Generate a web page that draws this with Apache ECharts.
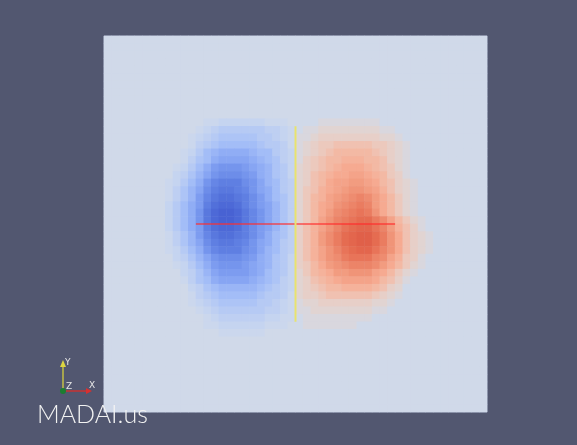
<!DOCTYPE html>
<html>
<head>
<meta charset="utf-8">
<script src="https://cdn.jsdelivr.net/npm/echarts@6/dist/echarts.min.js"></script>
<style>
    html, body { margin: 0; padding: 0; background: #525770; }
    #chart { width: 577px; height: 445px; }
</style>
</head>
<body>
<div id="chart"></div>
<script>
// 50 x 50 cell field. Rows below start at row 11 and column 8, everything else is 0.
// '.' = 0, a..r = -0.5 .. -9 (blue), A..R = +0.5 .. +9 (red)
var gridSize = 50;
var firstRow = 11;
var firstCol = 8;
var fieldRows = [
    ".....aabbbbbbaaa....AAAAAAAA.......",
    "....abcddddddccba.AABBBBBBBBAA.....",
    "...abcdeeeeeddcbaAABCCCCCCCCBBA....",
    "...acdefffffeddcaABCDDEEEEEDDCBA...",
    "..abdfghhhhgffdcbABCDEFFFFFEDCBA...",
    "..acefhiiiihgfecbACDEFFGGGFFECBA...",
    ".abdfhjkkkjihgedbBCDEFGHHHGFEDBA...",
    ".bcegiklllkjhgedbBCEFGHHIIHGFDCA...",
    "abdfhkmnnnlkigfdcBCEFHIIJJIHFECBA..",
    "acegilnoonmkihfdcBDEGHIJKKJIGECBA..",
    "acegjmopponljhfecBDFGIJKLMLJHFDBA..",
    "bdfhjnpqqpnljigecBDFHIKLMNMJHFDBA..",
    "bdfhkoqrrqomkigecBDFHJLMNONKHFDBA..",
    "bdfhkoqrrqomkigecBDFIKMNOPPNLIFDBA.",
    "bdfhjnpqqpnljigecCEGIKMOPQQOMJGECA.",
    "acegjmopponljhfecCEGJLNPQRRPNKHECBA",
    "acegilnoonmkihfdcCEGJLNPQRRPNKHECBA",
    "abdfhkmnnnlkigfdcCEGIKMOPQQOMKHECBA",
    ".bcegiklllkjhgedbCEGIKLNOOOMLIGDCA.",
    ".abdfhjkkkjihgedbCDFHJKLMMMLJHFDBA.",
    "..bcegijjjjihfedbBDFGHJJKKKIHFDBA..",
    "..acefhiiiihgfecbBCEFGHIIIIHFECA...",
    "...bcefgggggfedcbBCDEFFGGGGFECB....",
    "...acdefffffeddcaBCCDEEEEEEDCBA....",
    "...abcdeeeeeddcbaABBCCCCCCCBBA.....",
    "....abcddddddccbaAABBBBBBBBAA......",
    ".....abccccccbbaa.AAAAAAAAA........",
    ".....aabbbbbbaaa..AAAAAAA..........",
    ".......aaaaaa......................"
];

// colours for levels -9 .. 9
var levelColors = [
    '#4862d3', '#5270da', '#5f7fe2', '#6d8de9', '#7d9cf0', '#90adf5', '#a3bdf7', '#b6caf4', '#c5d4f0',
    '#d0d9e9',
    '#e1d4d2', '#ecc9bd', '#f3b9a4', '#f6aa91', '#f29c80', '#ee8c70', '#ea7c60', '#e56c51', '#e06049'
];

// the two probe lines, in cell units (x, y from top-left)
var xProbe = [[12, 25], [38, 25]];
var yProbe = [[25, 12], [25, 38]];

function levelOf(ch) {
    if (!ch || ch === '.') { return 0; }
    var code = ch.charCodeAt(0);
    if (code >= 97) { return -(code - 96) * 0.5; }
    return (code - 64) * 0.5;
}

var cats = [];
for (var k = 0; k < gridSize; k++) { cats.push(k); }

var cells = [];
for (var r = 0; r < gridSize; r++) {
    var row = fieldRows[r - firstRow] || '';
    for (var c = 0; c < gridSize; c++) {
        cells.push([c, r, levelOf(row[c - firstCol])]);
    }
}

var chart = echarts.init(document.getElementById('chart'));

var option = {
    backgroundColor: '#525770',
    animation: false,
    grid: {
        left: 104, top: 36, width: 383, height: 376,
        show: true,
        backgroundColor: '#d0d9e9',
        borderColor: '#9aa3bb',
        borderWidth: 1
    },
    xAxis: [
        { type: 'category', data: cats, show: false },
        { type: 'value', min: 0, max: gridSize, show: false }
    ],
    yAxis: [
        { type: 'category', data: cats, inverse: true, show: false },
        { type: 'value', min: 0, max: gridSize, inverse: true, show: false }
    ],
    visualMap: {
        type: 'continuous',
        min: -9,
        max: 9,
        show: false,
        seriesIndex: 0,
        inRange: { color: levelColors }
    },
    series: [
        {
            type: 'heatmap',
            data: cells,
            xAxisIndex: 0,
            yAxisIndex: 0
        },
        {
            type: 'line',
            xAxisIndex: 1,
            yAxisIndex: 1,
            data: xProbe,
            symbol: 'none',
            z: 5,
            lineStyle: { color: 'rgba(255,45,45,0.6)', width: 2 }
        },
        {
            type: 'line',
            xAxisIndex: 1,
            yAxisIndex: 1,
            data: yProbe,
            symbol: 'none',
            z: 6,
            lineStyle: { color: '#e8e36e', width: 2 }
        }
    ],
    graphic: [
        { type: 'line', z: 50, shape: { x1: 63, y1: 390, x2: 63, y2: 364 }, style: { stroke: '#c4bf45', lineWidth: 1.5 } },
        { type: 'polygon', z: 50, shape: { points: [[60, 367], [66, 367], [63, 360]] }, style: { fill: '#ddd640' } },
        { type: 'line', z: 50, shape: { x1: 63, y1: 391, x2: 88, y2: 391 }, style: { stroke: '#c83232', lineWidth: 1.5 } },
        { type: 'polygon', z: 50, shape: { points: [[86, 388], [86, 394], [92, 391]] }, style: { fill: '#d83030' } },
        { type: 'circle', z: 51, shape: { cx: 63, cy: 391, r: 3 }, style: { fill: '#1c7d30' } },
        { type: 'text', z: 52, left: 65, top: 358, style: { text: 'Y', fill: '#e6e6e6', font: '9px "DejaVu Sans"' } },
        { type: 'text', z: 52, left: 66, top: 382, style: { text: 'Z', fill: '#e6e6e6', font: '9px "DejaVu Sans"' } },
        { type: 'text', z: 52, left: 89, top: 381, style: { text: 'X', fill: '#e6e6e6', font: '9px "DejaVu Sans"' } },
        { type: 'text', z: 52, left: 37, top: 402, style: { text: 'MADAI.us', fill: '#f2f2f2', font: '300 25px Lato' } }
    ]
};

option && chart.setOption(option);
</script>
</body>
</html>
